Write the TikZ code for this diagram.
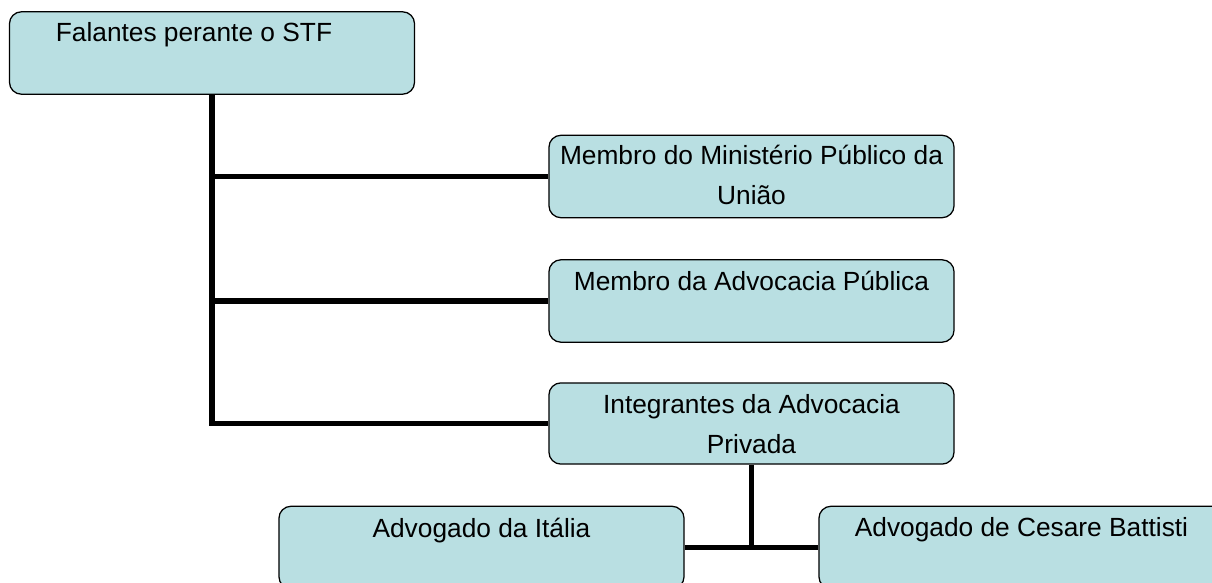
\documentclass[tikz,border=0pt]{standalone}
\usepackage{fontspec}
\setmainfont{Liberation Sans}
\usetikzlibrary{positioning}
\definecolor{boxFill}{RGB}{185,223,226}
\tikzstyle{fBox} = [rectangle, rounded corners=0.3cm, minimum width=10.125cm, minimum height=2.06cm, draw=black, line width=0.9pt, fill=boxFill]
\tikzstyle{fText} = [inner sep=0pt, align=center, font=\fontsize{18.7}{28.5}\selectfont]
\tikzstyle{fLine} = [line width=3.9pt]

\begin{document}
\begin{tikzpicture}[x=0.025cm, y=-0.025cm]
    \clip (0,0) rectangle (1212,583);
    \node (falantes) [fBox] at (212,53) {};
    \node (ministerio) [fBox] at (751.5,176.5) {};
    \node (publica) [fBox] at (751.5,301) {};
    \node (privada) [fBox, minimum height=2.03cm] at (751.5,423.5) {};
    \node (italia) [fBox] at (481.5,547.5) {};
    \node (battisti) [fBox] at (1021.5,547.5) {};

    \node (falantesTxt) [fText, below=0.28cm of falantes.north, xshift=-0.45cm] {Falantes perante o STF};
    \node (ministerioTxt) [fText, below=0.26cm of ministerio.north] {Membro do Ministério Público da\\União};
    \node (publicaTxt) [fText, below=0.3cm of publica.north] {Membro da Advocacia Pública};
    \node (privadaTxt) [fText, below=0.3cm of privada.north] {Integrantes da Advocacia\\Privada};
    \node (italiaTxt) [fText, below=0.3cm of italia.north] {Advogado da Itália};
    \node (battistiTxt) [fText, below=0.3cm of battisti.north] {Advogado de Cesare Battisti};

    \draw [fLine] (falantes.south) |- (privada.west);
    \draw [fLine] (falantes.south |- ministerio.west) -- (ministerio.west);
    \draw [fLine] (falantes.south |- publica.west) -- (publica.west);
    \draw [fLine] (privada.south) -- (privada.south |- italia.east);
    \draw [fLine] (italia.east) -- (battisti.west);
\end{tikzpicture}
\end{document}
